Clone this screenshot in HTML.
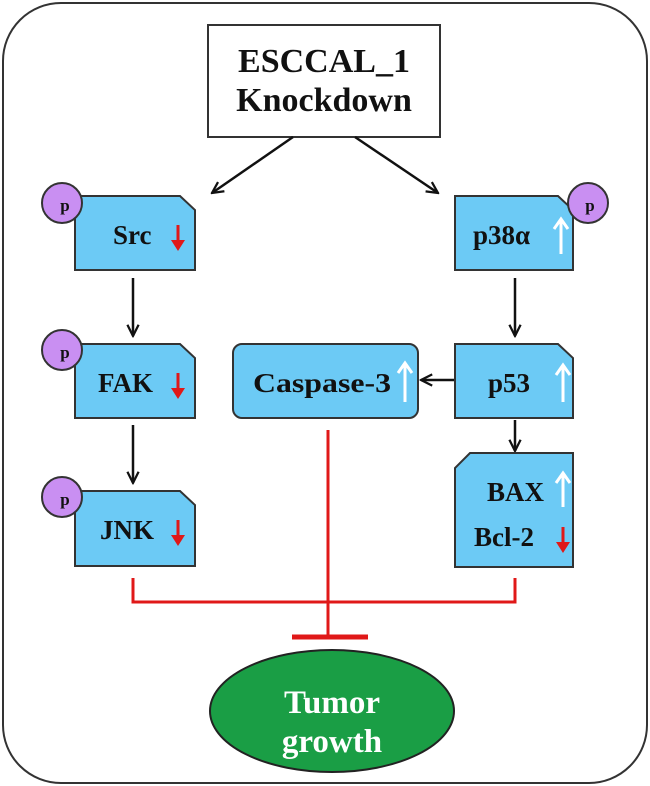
<!DOCTYPE html>
<html><head><meta charset="utf-8"><style>
html,body{margin:0;padding:0;background:#fff;}
svg{display:block;}
text{font-family:"Liberation Serif",serif;font-weight:bold;}
</style></head><body>
<svg width="650" height="786" viewBox="0 0 650 786" xmlns="http://www.w3.org/2000/svg">
<defs>
<marker id="ah" viewBox="0 0 10 10" refX="9" refY="5" markerWidth="14" markerHeight="14" orient="auto" markerUnits="userSpaceOnUse">
<path d="M1,1 L9,5 L1,9" fill="none" stroke="#111" stroke-width="1.6"/>
</marker>
</defs>
<rect x="3" y="3" width="644" height="780" rx="58" fill="#fff" stroke="#333" stroke-width="2"/>
<rect x="208" y="25" width="232" height="112" fill="#fff" stroke="#333" stroke-width="2"/>
<text x="324" y="72" font-size="34" text-anchor="middle" fill="#111">ESCCAL_1</text>
<text x="324" y="111" font-size="34" text-anchor="middle" fill="#111">Knockdown</text>
<g stroke="#111" stroke-width="2.5" fill="none">
<line x1="293" y1="137" x2="212" y2="193" marker-end="url(#ah)"/>
<line x1="355" y1="137" x2="438" y2="193" marker-end="url(#ah)"/>
<line x1="133" y1="278" x2="133" y2="336" marker-end="url(#ah)"/>
<line x1="133" y1="425" x2="133" y2="483" marker-end="url(#ah)"/>
<line x1="515" y1="278" x2="515" y2="336" marker-end="url(#ah)"/>
<line x1="515" y1="420" x2="515" y2="451" marker-end="url(#ah)"/>
<line x1="455" y1="380" x2="421" y2="380" marker-end="url(#ah)"/>
</g>
<g fill="#6ccaf5" stroke="#333" stroke-width="2">
<path d="M75,196 H180 L195,210 V270 H75 Z"/>
<path d="M75,344 H180 L195,358 V418 H75 Z"/>
<path d="M75,491 H180 L195,505 V566 H75 Z"/>
<path d="M455,196 H558 L573,210 V270 H455 Z"/>
<path d="M455,344 H558 L573,358 V418 H455 Z"/>
<path d="M470,453 H573 V567 H455 V468 Z"/>
<rect x="233" y="344" width="185" height="74" rx="9"/>
</g>
<g fill="#c98ff2" stroke="#333" stroke-width="2">
<circle cx="62" cy="203" r="20"/>
<circle cx="62" cy="350" r="20"/>
<circle cx="62" cy="497" r="20"/>
<circle cx="588" cy="203" r="20"/>
</g>
<g font-size="17" fill="#111" text-anchor="middle">
<text x="65" y="211">p</text><text x="65" y="358">p</text><text x="65" y="505">p</text><text x="590" y="211">p</text>
</g>
<g font-size="27" fill="#111">
<text x="113" y="244">Src</text>
<text x="98" y="392">FAK</text>
<text x="100" y="539">JNK</text>
<text x="473" y="244">p38α</text>
<text x="488" y="392">p53</text>
<text x="487" y="501">BAX</text>
<text x="474" y="546">Bcl-2</text>
<text x="253" y="392" textLength="138" lengthAdjust="spacingAndGlyphs">Caspase-3</text>
</g>
<g stroke="#e01818" stroke-width="3" fill="#e01818">
<line x1="178" y1="225" x2="178" y2="246"/><path d="M171,240 L178,251 L185,240 Z" stroke="none"/>
<line x1="178" y1="373" x2="178" y2="394"/><path d="M171,388 L178,399 L185,388 Z" stroke="none"/>
<line x1="178" y1="520" x2="178" y2="541"/><path d="M171,535 L178,546 L185,535 Z" stroke="none"/>
<line x1="563" y1="527" x2="563" y2="548"/><path d="M556,542 L563,553 L570,542 Z" stroke="none"/>
</g>
<g stroke="#fff" stroke-width="3" fill="none">
<line x1="561" y1="254" x2="561" y2="220"/><path d="M554,229 L561,219 L568,229"/>
<line x1="563" y1="402" x2="563" y2="366"/><path d="M556,375 L563,365 L570,375"/>
<line x1="563" y1="507" x2="563" y2="474"/><path d="M556,483 L563,473 L570,483"/>
<line x1="405" y1="402" x2="405" y2="364"/><path d="M398,373 L405,363 L412,373"/>
</g>
<g stroke="#e01818" stroke-width="3" fill="none">
<path d="M133,578 V602 H515 V578"/>
<line x1="328" y1="430" x2="328" y2="637"/>
</g>
<line x1="292" y1="637" x2="368" y2="637" stroke="#e01818" stroke-width="5"/>
<ellipse cx="332" cy="711" rx="122" ry="61" fill="#1a9e45" stroke="#222" stroke-width="2"/>
<text x="332" y="713" font-size="33" fill="#fff" text-anchor="middle">Tumor</text>
<text x="332" y="752" font-size="33" fill="#fff" text-anchor="middle">growth</text>
</svg>
</body></html>
